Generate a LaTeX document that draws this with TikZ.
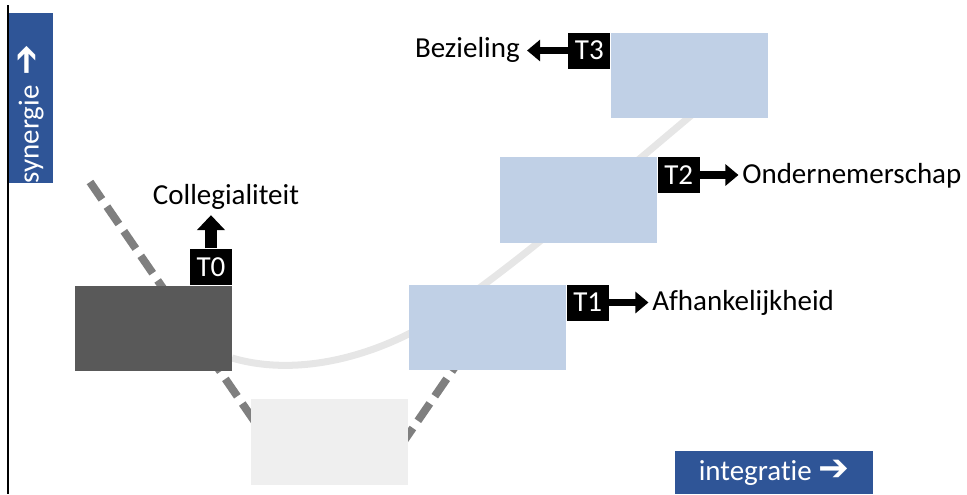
\documentclass[tikz,border=0pt]{standalone}
\usepackage{fontspec}
\setmainfont{Carlito}[Ligatures=NoCommon]
\newfontfamily\pijlfont{DejaVu Sans}
\usetikzlibrary{arrows.meta}
\definecolor{asblauw}{HTML}{2F5597}
\definecolor{donker}{HTML}{595959}
\definecolor{licht}{HTML}{EFEFEF}
\definecolor{fase}{HTML}{C0D0E6}
\definecolor{streep}{HTML}{7F7F7F}
\definecolor{curve}{HTML}{E6E6E6}
\newcommand\aspijl{{\pijlfont\bfseries\fontsize{21}{21}\selectfont ➔}}
\begin{document}
\begin{tikzpicture}[x=0.02cm,y=-0.02cm,font=\fontsize{16.5}{20}\selectfont,
  blok/.style={minimum width=3.14cm,minimum height=1.72cm,inner sep=0pt},
  tag/.style={fill=black,text=white,minimum width=0.84cm,minimum height=0.72cm,inner sep=0pt},
  pijl/.style={line width=4.2pt,-{Triangle[length=7.5pt,width=12pt]}},
  dikkepijl/.style={line width=7pt,-{Triangle[length=8.5pt,width=15.5pt]}},
  as/.style={fill=asblauw,text=white,inner sep=0pt}]
\useasboundingbox (0,0) rectangle (967,494);
\path[draw,line width=0.8pt] (8,5) -- (8,494);
% lijnen achter de blokken
\path[draw,line width=4pt,curve] (232,358) .. controls (300,378) and (380,355) .. (440,316)
  .. controls (520,262) and (620,175) .. (700,108);
\path[draw,line width=4.5pt,streep,dash pattern=on 12pt off 5pt] (90,182) -- (288,470);
\path[draw,line width=4.5pt,streep,dash pattern=on 12pt off 5pt] (384,470) -- (470,345);
% blokken
\node[blok,fill=donker] (t0) at (153.5,328.5) {};
\node[blok,fill=licht] (basis) at (329.5,442) {};
\node[blok,fill=fase] (t1) at (487.5,327.5) {};
\node[blok,fill=fase] (t2) at (578.5,200) {};
\node[blok,fill=fase] (t3) at (689.5,75.5) {};
\node[tag,anchor=south east] (l0) at (t0.north east) {T0};
\node[tag,anchor=north west] (l1) at (t1.north east) {T1};
\node[tag,anchor=north west] (l2) at (t2.north east) {T2};
\node[tag,anchor=north east] (l3) at (t3.north west) {T3};
% teksten
\node[inner sep=0pt] (c0) at (226,197) {Collegialiteit};
\node[anchor=west,inner sep=0pt] (c1) at (652,303) {Afhankelijkheid};
\node[anchor=west,inner sep=0pt] (c2) at (742,176) {Ondernemerschap};
\node[anchor=east,inner sep=0pt] (c3) at (520,50) {Bezieling};
\path[draw,dikkepijl,shorten >=3pt] (l0.north) -- (l0.north |- c0.south);
\path[draw,pijl,shorten >=2pt] (l1.east) -- (l1.east -| c1.west);
\path[draw,pijl,shorten >=2pt] (l2.east) -- (l2.east -| c2.west);
\path[draw,pijl,shorten >=4pt] (l3.west) -- (l3.west -| c3.east);
% assen
\node[as,rotate=90,minimum height=0.88cm,text width=3.42cm,align=left] (syn) at (31,98)
  {synergie \aspijl};
\node[as,minimum width=3.96cm,minimum height=0.86cm] (int) at (774,472.5)
  {integratie \aspijl};
\end{tikzpicture}
\end{document}
